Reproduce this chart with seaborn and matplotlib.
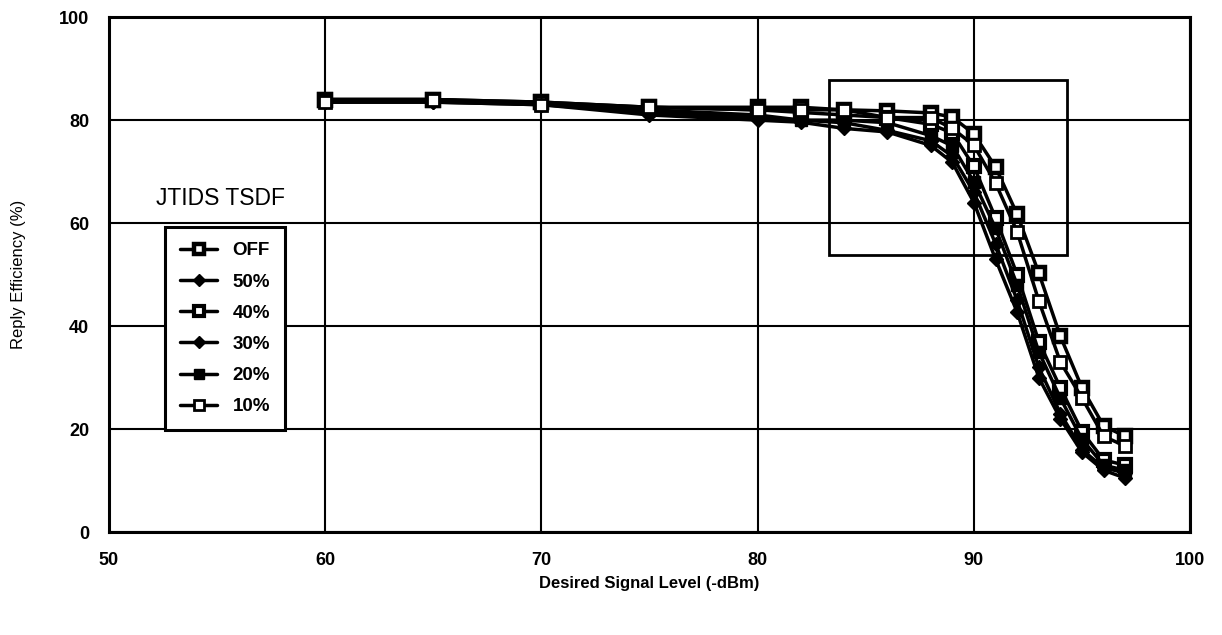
import matplotlib
matplotlib.use("Agg")
import matplotlib.pyplot as plt
import seaborn as sns
import pandas as pd
from matplotlib.patches import Rectangle

sns.set_theme(style="white")
plt.rcParams['font.family'] = ['Liberation Sans', 'DejaVu Sans']
plt.rcParams['text.color'] = 'black'
plt.rcParams['axes.labelcolor'] = 'black'
plt.rcParams['xtick.color'] = 'black'
plt.rcParams['ytick.color'] = 'black'

signal_level = [60, 65, 70, 75, 80, 82, 84, 86, 88, 89, 90, 91, 92, 93, 94, 95, 96, 97]

series_names = ["OFF", "50%", "40%", "30%", "20%", "10%"]
eff_off = [84, 84, 83.5, 82.5, 82.5, 82.5, 82, 81.8, 81.4, 80.6, 77.3, 70.9, 61.7, 50.3, 38, 28, 20.6, 18.6]
eff_50 = [83.5, 83.5, 83, 81.5, 80.5, 80, 79.5, 78, 76, 73, 66, 56, 45, 32, 23, 16, 12.5, 11.5]
eff_40 = [84, 84, 83.5, 82.5, 82, 81.5, 81, 80.5, 79.2, 77.5, 71, 61, 50, 37, 28, 19.5, 14, 13]
eff_30 = [83.5, 83.5, 83, 81, 80, 79.6, 78.4, 77.7, 75.1, 71.8, 64, 53, 42.7, 30, 22, 15.5, 12, 10.5]
eff_20 = [84, 84, 83, 82, 81, 80, 80, 79.5, 77, 75, 68, 59, 48, 35, 26, 18, 13, 12]
eff_10 = [83.5, 84, 83, 82.5, 82, 82, 82, 80.5, 80.5, 78.4, 75.1, 67.8, 58.3, 44.9, 33, 26, 18.6, 16.7]

series_values = [eff_off, eff_50, eff_40, eff_30, eff_20, eff_10]

styles = {
    "OFF": dict(marker="s", markerfacecolor="white", markeredgecolor="black", markersize=9, markeredgewidth=3.2),
    "50%": dict(marker="D", markerfacecolor="black", markeredgecolor="black", markersize=7, markeredgewidth=1),
    "40%": dict(marker="s", markerfacecolor="white", markeredgecolor="black", markersize=9, markeredgewidth=3.0),
    "30%": dict(marker="D", markerfacecolor="black", markeredgecolor="black", markersize=7, markeredgewidth=1),
    "20%": dict(marker="s", markerfacecolor="black", markeredgecolor="black", markersize=8, markeredgewidth=1),
    "10%": dict(marker="s", markerfacecolor="white", markeredgecolor="black", markersize=9, markeredgewidth=2.0),
}

fig = plt.figure(figsize=(12.22, 6.35), dpi=100)
ax = fig.add_axes([0.089, 0.162, 0.885, 0.811])

for name, vals in zip(series_names, series_values):
    df = pd.DataFrame({"x": signal_level, "y": vals})
    sns.lineplot(data=df, x="x", y="y", ax=ax, color="black", linewidth=2.5,
                 label=name, **styles[name])

ax.set_xlim(50, 100)
ax.set_ylim(0, 100)
ax.set_xticks([50, 60, 70, 80, 90, 100])
ax.set_yticks([0, 20, 40, 60, 80, 100])
ax.grid(True, color="black", linewidth=1.5)
for sp in ax.spines.values():
    sp.set_color("black")
    sp.set_linewidth(2.2)
ax.tick_params(axis="both", direction="inout", length=12, width=2, colors="black",
               labelsize=13, pad=8)
for lbl in ax.get_xticklabels() + ax.get_yticklabels():
    lbl.set_fontweight("bold")
    lbl.set_color("black")

ax.set_xlabel("Desired Signal Level (-dBm)", fontsize=12, fontweight="bold", labelpad=5, color="black")
ax.set_ylabel("Reply Efficiency (%)", fontsize=12, labelpad=24, color="black")

# annotation rectangle
ax.add_patch(Rectangle((83.3, 53.8), 11.0, 34.0, fill=False, edgecolor="black", linewidth=2, zorder=1))

leg = ax.legend(loc="upper left", bbox_to_anchor=(0.052, 0.592), frameon=True,
                handlelength=2.0, labelspacing=0.75, borderpad=0.8, borderaxespad=0.0,
                fancybox=False, prop={"weight": "bold", "size": 13.5}, markerscale=0.85)
leg.get_frame().set_edgecolor("black")
leg.get_frame().set_linewidth(2.2)
leg.get_frame().set_alpha(1)
for t in leg.get_texts():
    t.set_color("black")
ax.text(0.044, 0.625, "JTIDS TSDF", transform=ax.transAxes, fontsize=16.5, color="black",
        ha="left", va="bottom", bbox=dict(facecolor="white", edgecolor="none", pad=1))

fig.savefig("out.png", dpi=100, facecolor="white")
